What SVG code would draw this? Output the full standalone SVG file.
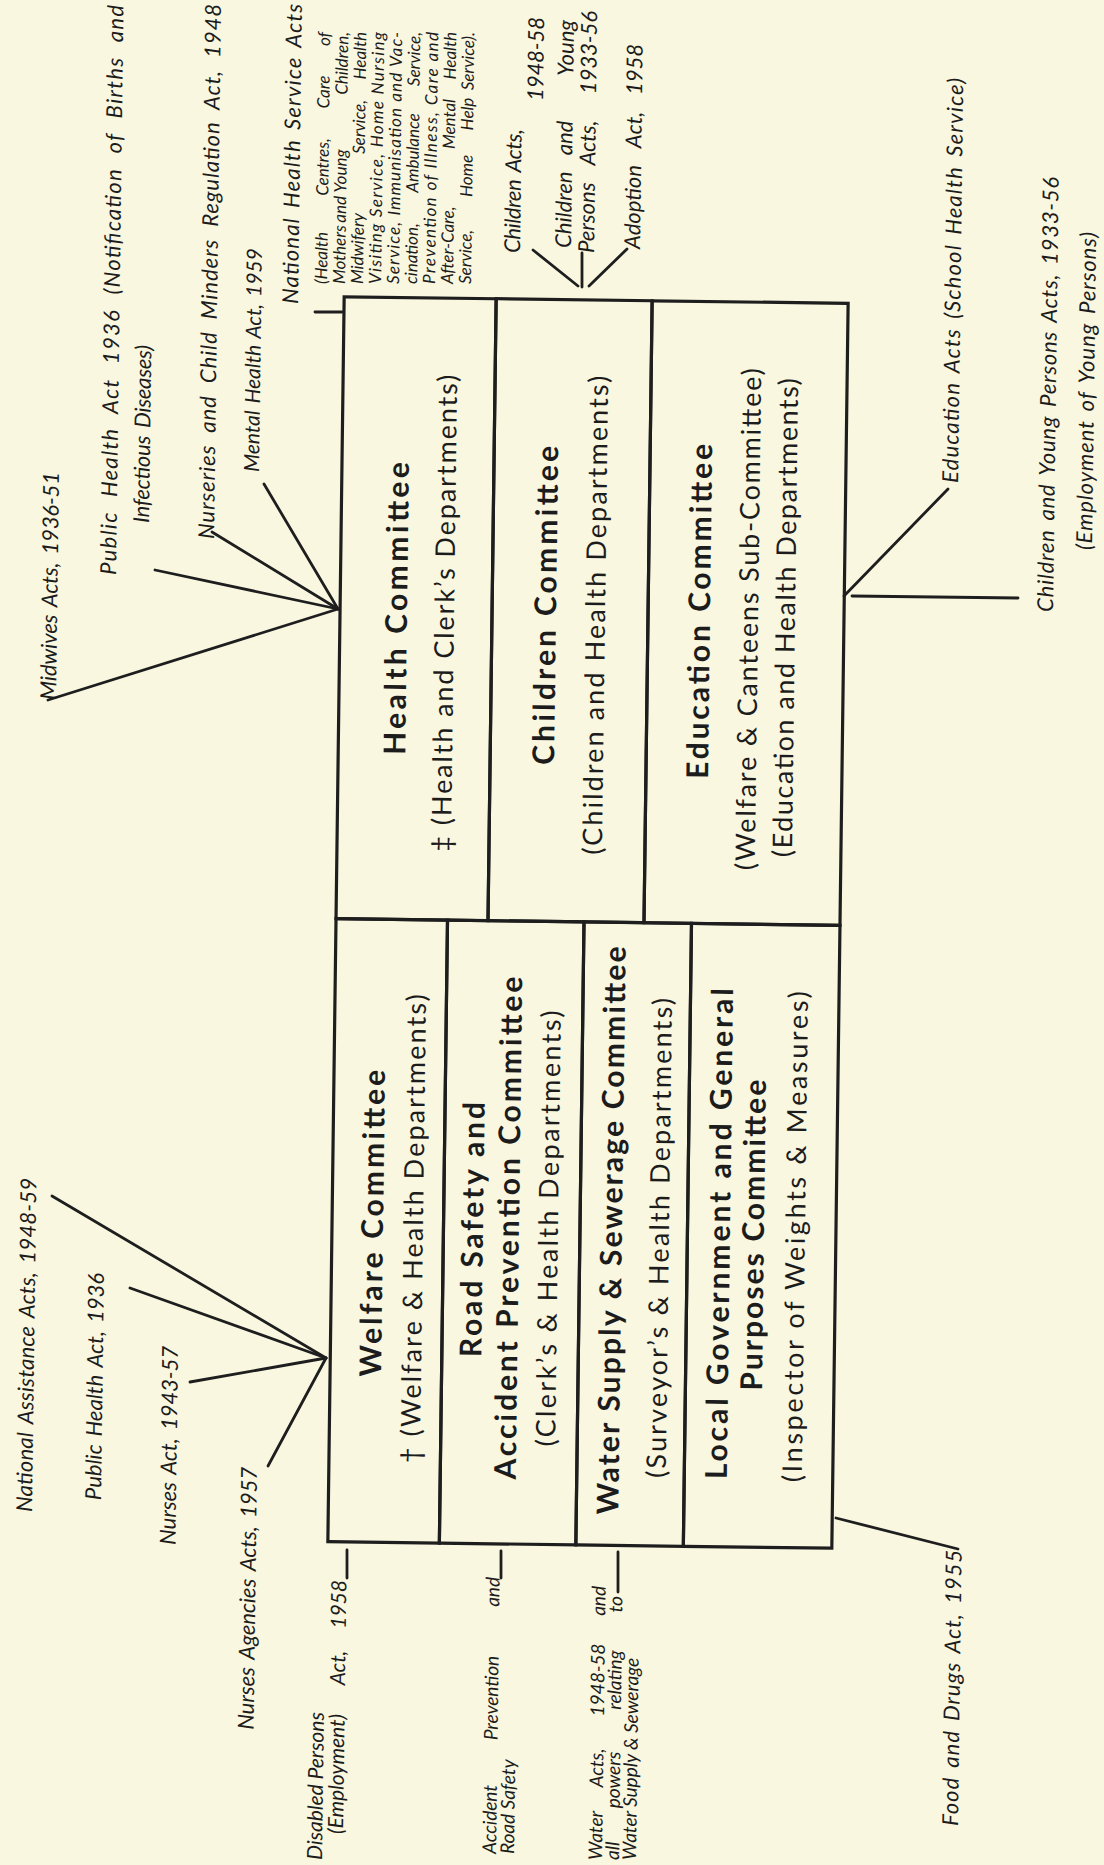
<svg xmlns="http://www.w3.org/2000/svg" width="1104" height="1865" viewBox="0 0 1104 1865">
<style>
.t{font-family:Lato,'Liberation Sans',sans-serif;fill:#1c1c1c}
.ti{font-weight:bold;font-size:30px}
.su{font-size:27px}
.lb{font-style:italic;font-size:22px;word-spacing:3px}
.nt{font-style:italic;font-size:17px}
.sm{font-style:italic;font-size:19px}
.cell{fill:none;stroke:#1e1e1e;stroke-width:3.2}
.ln{stroke:#1e1e1e;stroke-width:2.8;fill:none;stroke-linecap:round}
</style>
<rect width="1104" height="1865" fill="#f9f7e0"/>
<g id="committees" transform="rotate(0.75 588 922)">
<g id="health">
<rect class="cell" x="336" y="300" width="152" height="622"/>
<text class="t ti" text-anchor="middle" transform="translate(403,611) rotate(-90)" textLength="293" lengthAdjust="spacing">Health Committee</text>
<text class="t su" text-anchor="middle" transform="translate(450,615) rotate(-90)" textLength="477" lengthAdjust="spacing">‡ (Health and Clerk’s Departments)</text>
</g>
<g id="children">
<rect class="cell" x="488" y="300" width="156" height="622"/>
<text class="t ti" text-anchor="middle" transform="translate(552,606) rotate(-90)" textLength="319" lengthAdjust="spacing">Children Committee</text>
<text class="t su" text-anchor="middle" transform="translate(601,615) rotate(-90)" textLength="479" lengthAdjust="spacing">(Children and Health Departments)</text>
</g>
<g id="education">
<rect class="cell" x="644" y="300" width="196" height="622"/>
<text class="t ti" text-anchor="middle" transform="translate(706,610) rotate(-90)" textLength="335" lengthAdjust="spacing">Education Committee</text>
<text class="t su" text-anchor="middle" transform="translate(754,617) rotate(-90)" textLength="502" lengthAdjust="spacing">(Welfare &amp; Canteens Sub-Committee)</text>
<text class="t su" text-anchor="middle" transform="translate(791,615) rotate(-90)" textLength="479" lengthAdjust="spacing">(Education and Health Departments)</text>
</g>
<g id="welfare">
<rect class="cell" x="336" y="922" width="111.5" height="623"/>
<text class="t ti" text-anchor="middle" transform="translate(387,1226) rotate(-90)" textLength="307" lengthAdjust="spacing">Welfare Committee</text>
<text class="t su" text-anchor="middle" transform="translate(427,1231) rotate(-90)" textLength="469" lengthAdjust="spacing">† (Welfare &amp; Health Departments)</text>
</g>
<g id="road-safety">
<rect class="cell" x="447.5" y="922" width="136.5" height="623"/>
<text class="t ti" text-anchor="middle" transform="translate(487,1231) rotate(-90)" textLength="255" lengthAdjust="spacing">Road Safety and</text>
<text class="t ti" text-anchor="middle" transform="translate(523,1229) rotate(-90)" textLength="503" lengthAdjust="spacing">Accident Prevention Committee</text>
<text class="t su" text-anchor="middle" transform="translate(562,1229) rotate(-90)" textLength="436" lengthAdjust="spacing">(Clerk’s &amp; Health Departments)</text>
</g>
<g id="water-supply">
<rect class="cell" x="584" y="922" width="107.5" height="623"/>
<text class="t ti" text-anchor="middle" transform="translate(626,1230) rotate(-90)" textLength="568" lengthAdjust="spacing">Water Supply &amp; Sewerage Committee</text>
<text class="t su" text-anchor="middle" transform="translate(673,1237) rotate(-90)" textLength="480" lengthAdjust="spacing">(Surveyor’s &amp; Health Departments)</text>
</g>
<g id="local-government">
<rect class="cell" x="691.5" y="922" width="148.5" height="623"/>
<text class="t ti" text-anchor="middle" transform="translate(734,1232) rotate(-90)" textLength="491" lengthAdjust="spacing">Local Government and General</text>
<text class="t ti" text-anchor="middle" transform="translate(768,1233) rotate(-90)" textLength="311" lengthAdjust="spacing">Purposes Committee</text>
<text class="t su" text-anchor="middle" transform="translate(809,1234) rotate(-90)" textLength="491" lengthAdjust="spacing">(Inspector of Weights &amp; Measures)</text>
</g>
</g>
<g id="connectors">
<line class="ln" x1="48" y1="700" x2="338" y2="609"/>
<line class="ln" x1="155" y1="570" x2="338" y2="609"/>
<line class="ln" x1="212" y1="532" x2="338" y2="609"/>
<line class="ln" x1="264" y1="484" x2="338" y2="609"/>
<line class="ln" x1="315" y1="312" x2="342" y2="312"/>
<line class="ln" x1="533" y1="250" x2="578" y2="286"/>
<line class="ln" x1="582" y1="253" x2="582" y2="287"/>
<line class="ln" x1="627" y1="249" x2="589" y2="286"/>
<line class="ln" x1="844" y1="596" x2="948" y2="489"/>
<line class="ln" x1="852" y1="596" x2="1018" y2="598"/>
<line class="ln" x1="836" y1="1518" x2="958" y2="1549"/>
<line class="ln" x1="52" y1="1196" x2="326" y2="1358"/>
<line class="ln" x1="130" y1="1288" x2="326" y2="1358"/>
<line class="ln" x1="190" y1="1382" x2="326" y2="1358"/>
<line class="ln" x1="268" y1="1466" x2="326" y2="1358"/>
<line class="ln" x1="347" y1="1550" x2="347" y2="1578"/>
<line class="ln" x1="501" y1="1551" x2="501" y2="1578"/>
<line class="ln" x1="618" y1="1552" x2="618" y2="1592"/>
</g>
<g id="acts">
<g id="midwives-acts"><text class="t lb" transform="translate(56,700) rotate(-89.25)" textLength="228" lengthAdjust="spacing">Midwives Acts, 1936-51</text></g>
<g id="public-health-act-1936-notification">
<text class="t lb" transform="translate(116,575) rotate(-89.25)" textLength="570" lengthAdjust="spacing" style="word-spacing:8px">Public Health Act 1936 (Notification of Births and</text>
<text class="t lb" transform="translate(149,523) rotate(-89.25)" textLength="178" lengthAdjust="spacing">Infectious Diseases)</text>
</g>
<g id="nurseries-act"><text class="t lb" transform="translate(214,539) rotate(-89.25)" textLength="535" lengthAdjust="spacing" style="word-spacing:6px">Nurseries and Child Minders Regulation Act, 1948</text></g>
<g id="mental-health-act"><text class="t lb" transform="translate(259,472) rotate(-89.25)" style="font-size:21px;word-spacing:2px">Mental Health Act, 1959</text></g>
<g id="nhs-acts">
<text class="t lb" transform="translate(298,304) rotate(-89.25)" textLength="300" lengthAdjust="spacing">National Health Service Acts</text>
<text class="t nt" transform="translate(327,284) rotate(-89.25)"><tspan x="0">(Health</tspan><tspan x="117" text-anchor="middle">Centres,</tspan><tspan x="192" text-anchor="middle">Care</tspan><tspan x="252" text-anchor="end">of</tspan></text>
<text class="t nt" transform="translate(345,284) rotate(-89.25)"><tspan x="0">Mothers</tspan><tspan x="98" text-anchor="middle">and Young</tspan><tspan x="252" text-anchor="end">Children,</tspan></text>
<text class="t nt" transform="translate(363,284) rotate(-89.25)"><tspan x="0">Midwifery</tspan><tspan x="157" text-anchor="middle">Service,</tspan><tspan x="252" text-anchor="end">Health</tspan></text>
<text class="t nt" transform="translate(381,284) rotate(-89.25)" textLength="252" lengthAdjust="spacing">Visiting Service, Home Nursing</text>
<text class="t nt" transform="translate(399,284) rotate(-89.25)" textLength="252" lengthAdjust="spacing">Service, Immunisation and Vac-</text>
<text class="t nt" transform="translate(417,284) rotate(-89.25)"><tspan x="0">cination,</tspan><tspan x="131" text-anchor="middle">Ambulance</tspan><tspan x="252" text-anchor="end">Service,</tspan></text>
<text class="t nt" transform="translate(435,284) rotate(-89.25)" textLength="252" lengthAdjust="spacing">Prevention of Illness, Care and</text>
<text class="t nt" transform="translate(453,284) rotate(-89.25)"><tspan x="0">After-Care,</tspan><tspan x="160" text-anchor="middle">Mental</tspan><tspan x="252" text-anchor="end">Health</tspan></text>
<text class="t nt" transform="translate(471,284) rotate(-89.25)"><tspan x="0">Service,</tspan><tspan x="108" text-anchor="middle">Home</tspan><tspan x="170" text-anchor="middle">Help</tspan><tspan x="252" text-anchor="end">Service).</tspan></text>
</g>
<g id="children-acts">
<text class="t lb" transform="translate(520,253) rotate(-89.25)" textLength="124" lengthAdjust="spacing">Children Acts,</text>
<text class="t lb" transform="translate(543,101) rotate(-89.25)" textLength="84" lengthAdjust="spacing">1948-58</text>
</g>
<g id="children-young-persons-acts">
<text class="t lb" transform="translate(571,248) rotate(-89.25)"><tspan x="0">Children</tspan><tspan x="110" text-anchor="middle">and</tspan><tspan x="228" text-anchor="end">Young</tspan></text>
<text class="t lb" transform="translate(594,253) rotate(-89.25)"><tspan x="0">Persons</tspan><tspan x="110" text-anchor="middle">Acts,</tspan><tspan x="242" text-anchor="end">1933-56</tspan></text>
</g>
<g id="adoption-act"><text class="t lb" transform="translate(640,249) rotate(-89.25)"><tspan x="0">Adoption</tspan><tspan x="119" text-anchor="middle">Act,</tspan><tspan x="205" text-anchor="end">1958</tspan></text></g>
<g id="education-acts"><text class="t lb" transform="translate(958,483) rotate(-89.25)" textLength="405" lengthAdjust="spacing">Education Acts (School Health Service)</text></g>
<g id="employment-young-persons">
<text class="t lb" transform="translate(1053,612) rotate(-89.25)" textLength="435" lengthAdjust="spacing">Children and Young Persons Acts, 1933-56</text>
<text class="t lb" transform="translate(1092,550) rotate(-89.25)" textLength="318" lengthAdjust="spacing">(Employment of Young Persons)</text>
</g>
<g id="food-drugs-act"><text class="t lb" transform="translate(958,1826) rotate(-89.25)" textLength="276" lengthAdjust="spacing">Food and Drugs Act, 1955</text></g>
<g id="national-assistance-acts"><text class="t lb" transform="translate(32,1512) rotate(-89.25)" textLength="334" lengthAdjust="spacing">National Assistance Acts, 1948-59</text></g>
<g id="public-health-act-1936"><text class="t lb" text-anchor="end" transform="translate(104,1273) rotate(-89.25)">Public Health Act, 1936</text></g>
<g id="nurses-act"><text class="t lb" text-anchor="end" transform="translate(178,1346) rotate(-89.25)">Nurses Act, 1943-57</text></g>
<g id="nurses-agencies-acts"><text class="t lb" text-anchor="end" transform="translate(257,1467) rotate(-89.25)">Nurses Agencies Acts, 1957</text></g>
<g id="disabled-persons-act">
<text class="t sm" transform="translate(322,1860) rotate(-89.25)" style="font-size:21px">Disabled Persons</text>
<text class="t sm" transform="translate(343,1834) rotate(-89.25)" style="font-size:21px"><tspan x="0">(Employment)</tspan><tspan x="166" text-anchor="middle">Act,</tspan><tspan x="254" text-anchor="end">1958</tspan></text>
</g>
<g id="accident-prevention">
<text class="t sm" transform="translate(496,1854) rotate(-89.25)"><tspan x="0">Accident</tspan><tspan x="156" text-anchor="middle">Prevention</tspan><tspan x="277" text-anchor="end">and</tspan></text>
<text class="t sm" transform="translate(514,1854) rotate(-89.25)">Road Safety</text>
</g>
<g id="water-acts">
<text class="t sm" transform="translate(602,1860) rotate(-89.25)"><tspan x="0">Water</tspan><tspan x="92" text-anchor="middle">Acts,</tspan><tspan x="180" text-anchor="middle">1948-58</tspan><tspan x="274" text-anchor="end">and</tspan></text>
<text class="t sm" transform="translate(619,1860) rotate(-89.25)"><tspan x="0">all</tspan><tspan x="80" text-anchor="middle">powers</tspan><tspan x="180" text-anchor="middle">relating</tspan><tspan x="264" text-anchor="end">to</tspan></text>
<text class="t sm" transform="translate(636,1860) rotate(-89.25)">Water Supply &amp; Sewerage</text>
</g>
</g>
</svg>
